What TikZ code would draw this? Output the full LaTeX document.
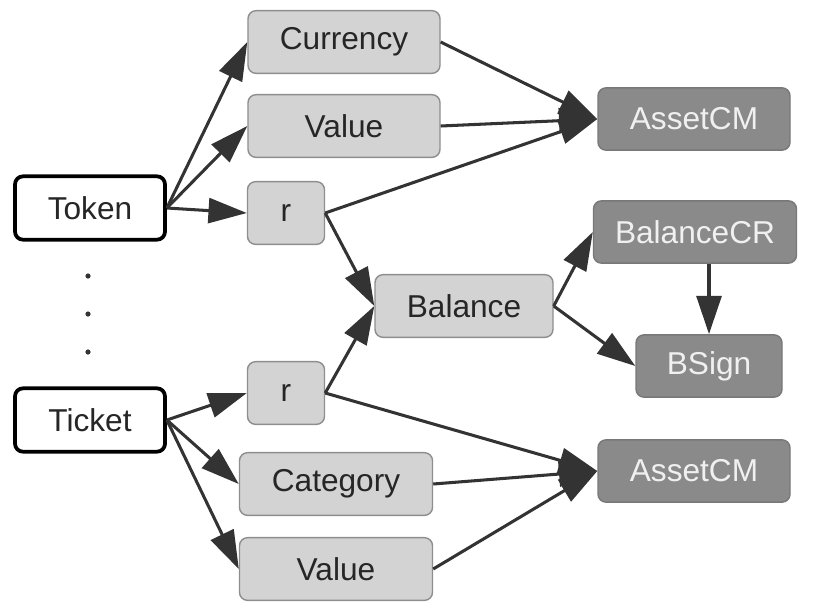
\documentclass[tikz,border=0pt]{standalone}
\usepackage{fontspec}
\setmainfont{Liberation Sans}
\usetikzlibrary{arrows.meta}

\definecolor{fieldfill}{HTML}{D3D3D3}
\definecolor{fieldline}{HTML}{8E8E8E}
\definecolor{outfill}{HTML}{8A8A8A}
\definecolor{outline}{HTML}{787878}
\definecolor{arrowgray}{HTML}{333333}

\begin{document}
\begin{tikzpicture}[x=0.03cm, y=-0.03cm,
    every node/.style = {font=\fontsize{27}{30}\selectfont, inner sep=0pt,
      shape=rectangle, rounded corners=0.24cm},
    source/.style = {draw=black, line width=3.2pt, fill=white, text=black!85,
      minimum width=4.5cm, minimum height=1.9cm},
    field/.style = {draw=fieldline, line width=1.2pt, fill=fieldfill,
      text=black!85, minimum height=1.88cm},
    output/.style = {draw=outline, line width=1.2pt, fill=outfill,
      text=white!94!black, minimum height=1.87cm},
    every edge/.style = {draw, arrowgray, line width=2.6pt,
      -{Triangle[length=1.15cm, width=0.75cm]}}]
  \useasboundingbox (0,0) rectangle (816,602);

  \node (tok)  [source] at (90,208) {Token};
  \node (tic)  [source] at (90,420) {Ticket};
  \foreach \y in {276,314,352}
    \fill[arrowgray] (88,\y) circle (2.6);

  \node (cur)  [field, minimum width=5.76cm] at (344,42)  {Currency};
  \node (valA) [field, minimum width=5.76cm] at (344,126) {Value};
  \node (rA)   [field, minimum width=2.31cm] at (286,213) {r};
  \node (bal)  [field, minimum width=5.34cm] at (464,306) {Balance};
  \node (rB)   [field, minimum width=2.31cm] at (286,393) {r};
  \node (cat)  [field, minimum width=5.79cm] at (336,484) {Category};
  \node (valB) [field, minimum width=5.79cm] at (336,569) {Value};

  \node (camA) [output, minimum width=5.76cm] at (694,119) {AssetCM};
  \node (bcr)  [output, minimum width=6.09cm] at (695,232) {BalanceCR};
  \node (bsig) [output, minimum width=4.38cm] at (709,366) {BSign};
  \node (camB) [output, minimum width=5.76cm] at (694,471) {AssetCM};

  \draw (tok.east) edge (cur.west);
  \draw (tok.east) edge (valA.west);
  \draw (tok.east) edge (rA.west);
  \draw (tic.east) edge (rB.west);
  \draw (tic.east) edge (cat.west);
  \draw (tic.east) edge (valB.west);

  \draw (cur.east)  edge (camA.west);
  \draw (valA.east) edge (camA.west);
  \draw (rA.east)   edge (camA.west);
  \draw (rA.east)   edge (bal.west);
  \draw (rB.east)   edge (bal.west);
  \draw (rB.east)   edge (camB.west);
  \draw (cat.east)  edge (camB.west);
  \draw (valB.east) edge (camB.west);

  \draw (bal.east) edge (bcr.west);
  \draw (bal.east) edge (bsig.west);
  \coordinate (drop) at (bcr.south -| bsig.north);
  \draw (drop) edge (bsig.north);
\end{tikzpicture}
\end{document}
